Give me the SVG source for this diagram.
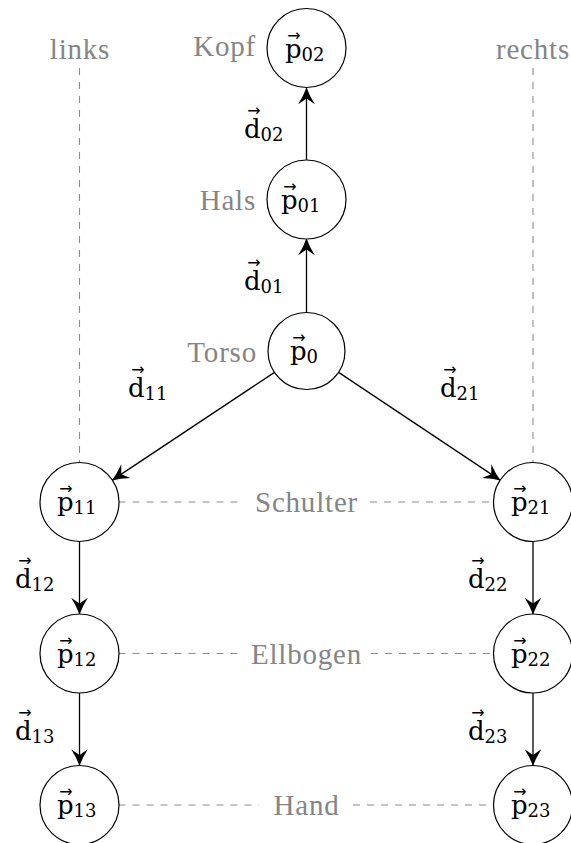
<svg xmlns="http://www.w3.org/2000/svg" width="571" height="843" viewBox="0 0 571 843">
<style>
.node{fill:#fff;stroke:#000;stroke-width:1.2}
.edge{fill:none;stroke:#000;stroke-width:1.3;marker-end:url(#arr)}
.dash{fill:none;stroke:#8c8c8c;stroke-width:1.1;stroke-dasharray:7 7}
.lbl{font-family:"Liberation Serif","Times New Roman",serif;font-size:29px;fill:#858585;letter-spacing:0.8px}
.m{font-family:"DejaVu Serif",serif;font-size:26px;fill:#000}
.s{font-size:18px}
.v{font-family:"DejaVu Sans",sans-serif;font-size:16px}
</style>
<defs>
<marker id="arr" markerUnits="userSpaceOnUse" markerWidth="20" markerHeight="20" refX="0" refY="0" viewBox="-17 -9 18 18" orient="auto">
<path d="M0,0 Q-7,-2.5 -15,-7.5 L-10,0 L-15,7.5 Q-7,2.5 0,0 Z" fill="#000"/>
</marker>
</defs>
<g id="guides">
<line class="dash" x1="79.5" y1="68" x2="79.5" y2="463"/>
<line class="dash" x1="533" y1="68" x2="533" y2="463"/>
<line class="dash" x1="118.5" y1="502" x2="243" y2="502"/>
<line class="dash" x1="370" y1="502" x2="494" y2="502"/>
<line class="dash" x1="118.5" y1="653.5" x2="242" y2="653.5"/>
<line class="dash" x1="371" y1="653.5" x2="494" y2="653.5"/>
<line class="dash" x1="118.5" y1="805" x2="259" y2="805"/>
<line class="dash" x1="353" y1="805" x2="494" y2="805"/>
</g>
<g id="connectors">
<path class="edge" d="M306.5,160.5 L306.5,87.5"/>
<path class="edge" d="M306.5,312 L306.5,238.5"/>
<path class="edge" d="M274.1,372.6 L112,480.4"/>
<path class="edge" d="M339,372.6 L500.5,480.4"/>
<path class="edge" d="M79.5,541 L79.5,614.5"/>
<path class="edge" d="M79.5,692.5 L79.5,766"/>
<path class="edge" d="M533,541 L533,614.5"/>
<path class="edge" d="M533,692.5 L533,766"/>
</g>
<g id="edge-labels">
<text class="m" x="244" y="138">d<tspan class="v" x="247.3" y="116">→</tspan><tspan class="s" x="260.5" y="141">02</tspan></text>
<text class="m" x="244" y="290">d<tspan class="v" x="247.3" y="268">→</tspan><tspan class="s" x="260.5" y="293">01</tspan></text>
<text class="m" x="128" y="397">d<tspan class="v" x="131.3" y="375">→</tspan><tspan class="s" x="144.5" y="400">11</tspan></text>
<text class="m" x="440" y="397">d<tspan class="v" x="443.3" y="375">→</tspan><tspan class="s" x="456.5" y="400">21</tspan></text>
<text class="m" x="15" y="588">d<tspan class="v" x="18.3" y="566">→</tspan><tspan class="s" x="31.5" y="591">12</tspan></text>
<text class="m" x="15" y="740">d<tspan class="v" x="18.3" y="718">→</tspan><tspan class="s" x="31.5" y="743">13</tspan></text>
<text class="m" x="468" y="588">d<tspan class="v" x="471.3" y="566">→</tspan><tspan class="s" x="484.5" y="591">22</tspan></text>
<text class="m" x="468" y="740">d<tspan class="v" x="471.3" y="718">→</tspan><tspan class="s" x="484.5" y="743">23</tspan></text>
</g>
<g id="labels">
<text class="lbl" x="80" y="59" text-anchor="middle">links</text>
<text class="lbl" x="533" y="59" text-anchor="middle">rechts</text>
<text class="lbl" x="256" y="56" text-anchor="end">Kopf</text>
<text class="lbl" x="256" y="210" text-anchor="end">Hals</text>
<text class="lbl" x="257" y="362" text-anchor="end">Torso</text>
<text class="lbl" x="306.5" y="512" text-anchor="middle">Schulter</text>
<text class="lbl" x="306.5" y="664" text-anchor="middle">Ellbogen</text>
<text class="lbl" x="306.5" y="815" text-anchor="middle">Hand</text>
</g>
<g id="p02"><circle class="node" cx="306.5" cy="48" r="39.5"/><text class="m" x="285" y="58">p<tspan class="v" x="287.3" y="41">→</tspan><tspan class="s" x="301.5" y="61">02</tspan></text></g>
<g id="p01"><circle class="node" cx="306.5" cy="199.5" r="39.5"/><text class="m" x="281" y="209">p<tspan class="v" x="283.3" y="192">→</tspan><tspan class="s" x="297.5" y="212">01</tspan></text></g>
<g id="p0"><circle class="node" cx="306.5" cy="351" r="38.5"/><text class="m" x="290" y="360">p<tspan class="v" x="292.3" y="343">→</tspan><tspan class="s" x="306.5" y="363">0</tspan></text></g>
<g id="p11"><circle class="node" cx="79.5" cy="502" r="39.5"/><text class="m" x="57" y="511">p<tspan class="v" x="59.3" y="494">→</tspan><tspan class="s" x="73.5" y="514">11</tspan></text></g>
<g id="p21"><circle class="node" cx="533" cy="502" r="39.5"/><text class="m" x="511" y="511">p<tspan class="v" x="513.3" y="494">→</tspan><tspan class="s" x="527.5" y="514">21</tspan></text></g>
<g id="p12"><circle class="node" cx="79.5" cy="653.5" r="39.5"/><text class="m" x="57" y="663">p<tspan class="v" x="59.3" y="646">→</tspan><tspan class="s" x="73.5" y="666">12</tspan></text></g>
<g id="p22"><circle class="node" cx="533" cy="653.5" r="39.5"/><text class="m" x="511" y="663">p<tspan class="v" x="513.3" y="646">→</tspan><tspan class="s" x="527.5" y="666">22</tspan></text></g>
<g id="p13"><circle class="node" cx="79.5" cy="805" r="39.5"/><text class="m" x="57" y="814">p<tspan class="v" x="59.3" y="797">→</tspan><tspan class="s" x="73.5" y="817">13</tspan></text></g>
<g id="p23"><circle class="node" cx="533" cy="805" r="39.5"/><text class="m" x="511" y="814">p<tspan class="v" x="513.3" y="797">→</tspan><tspan class="s" x="527.5" y="817">23</tspan></text></g>
</svg>
